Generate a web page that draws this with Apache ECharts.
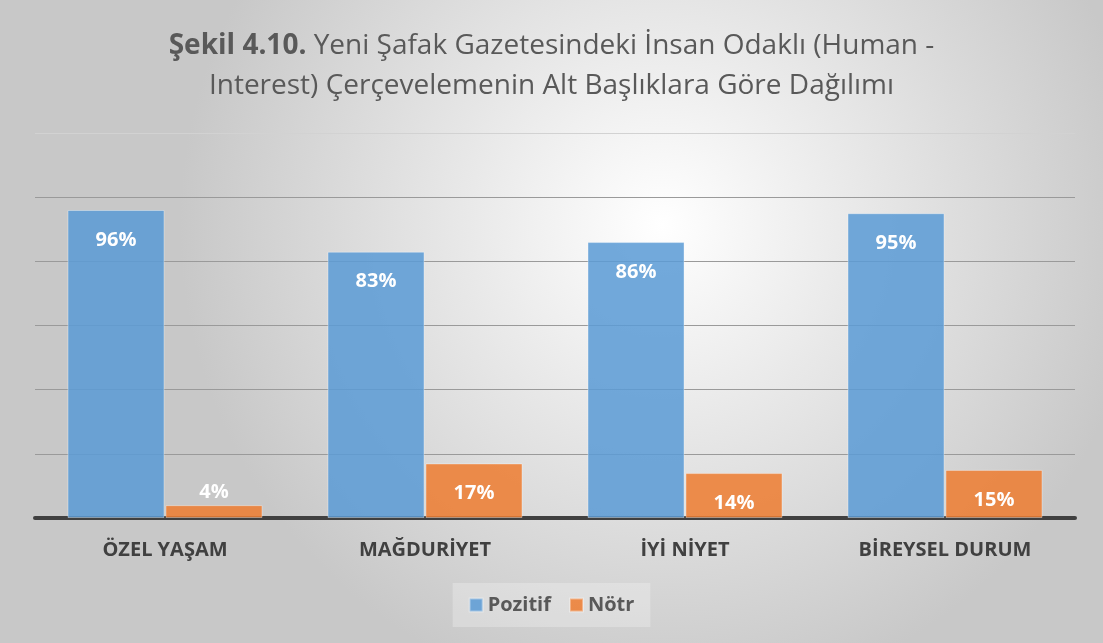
<!DOCTYPE html>
<html><head><meta charset="utf-8">
<script src="https://cdn.jsdelivr.net/npm/echarts@6/dist/echarts.min.js"></script>
<style>html,body{margin:0;padding:0;}#c{width:1103px;height:643px;}</style>
</head><body><div id="c"></div>
<script>
const categories = ['ÖZEL YAŞAM', 'MAĞDURİYET', 'İYİ NİYET', 'BİREYSEL DURUM'];
const seriesNames = ['Pozitif', 'Nötr'];
const pozitif = [96, 83, 86, 95];
const notr = [4, 17, 14, 15];

const chart = echarts.init(document.getElementById('c'));
const FONT = '"Open Sans", "Noto Sans", sans-serif';
function toData(arr) {
  return arr.map(v => {
    if (v < 8) return { value: v, label: { position: 'top', distance: 3 } };
    return v;
  });
}
const labelCfg = {
  show: true, position: 'insideTop', distance: 20,
  color: '#ffffff', fontFamily: FONT, fontWeight: 'bold', fontSize: 20,
  formatter: p => p.value + '%'
};
chart.setOption({
  backgroundColor: {
    type: 'radial', x: 0.6, y: 0.35, r: 0.75,
    colorStops: [{ offset: 0, color: '#ffffff' }, { offset: 1, color: '#c8c8c8' }]
  },
  title: {
    text: '{b|Şekil 4.10.} Yeni Şafak Gazetesindeki İnsan Odaklı (Human -\nInterest) Çerçevelemenin Alt Başlıklara Göre Dağılımı',
    left: 'center', top: 21,
    textStyle: {
      fontFamily: FONT, fontSize: 28, fontWeight: 'normal', color: '#595959', lineHeight: 40,
      rich: { b: { fontFamily: FONT, fontSize: 28, fontWeight: 'bold', color: '#595959', lineHeight: 40 } }
    }
  },
  legend: {
    data: seriesNames, bottom: 16, left: 'center',
    itemWidth: 13, itemHeight: 13, itemGap: 18,
    icon: 'rect',
    backgroundColor: 'rgba(255,255,255,0.25)', padding: [12, 16],
    textStyle: { fontFamily: FONT, fontSize: 20, fontWeight: 'bold', color: '#595959' }
  },
  grid: { left: 35, right: 28, top: 133, bottom: 125 },
  xAxis: {
    type: 'category', data: categories,
    axisLine: { lineStyle: { color: '#404040', width: 4 } },
    axisTick: { show: false },
    axisLabel: { color: '#404040', fontFamily: FONT, fontWeight: 'bold', fontSize: 20, margin: 22 }
  },
  yAxis: {
    type: 'value', min: 0, max: 120, interval: 20,
    axisLabel: { show: false }, axisLine: { show: false }, axisTick: { show: false },
    splitLine: { lineStyle: { color: ['#9a9a9a', '#9a9a9a', '#9a9a9a', '#9a9a9a', '#9a9a9a', '#9a9a9a', '#d2d2d2'], width: 1 } }
  },
  series: [
    {
      name: seriesNames[0], type: 'bar', data: toData(pozitif),
      barWidth: 97, barGap: '1%',
      itemStyle: { color: 'rgba(91,155,213,0.86)', borderColor: 'rgba(255,255,255,0.35)', borderWidth: 1 },
      label: labelCfg
    },
    {
      name: seriesNames[1], type: 'bar', data: toData(notr),
      barWidth: 97,
      itemStyle: { color: 'rgba(237,125,49,0.86)', borderColor: 'rgba(255,255,255,0.35)', borderWidth: 1 },
      label: labelCfg
    }
  ]
});
</script></body></html>
